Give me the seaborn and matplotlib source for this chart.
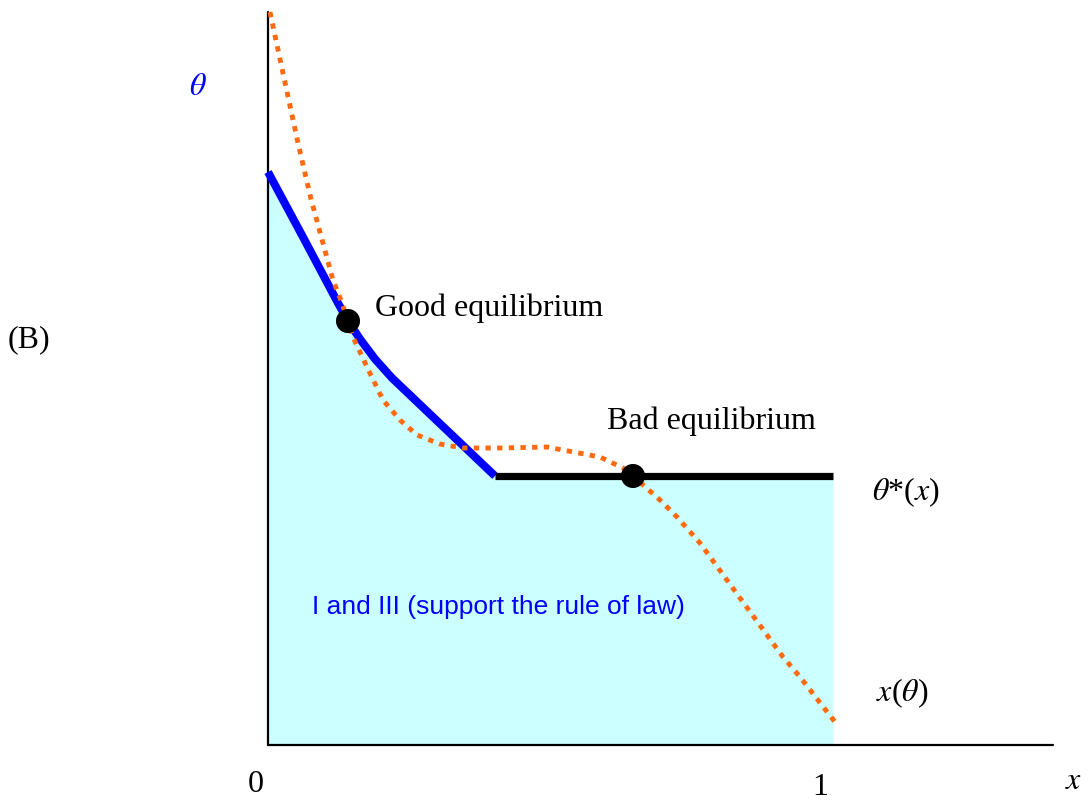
import numpy as np
import pandas as pd
import matplotlib
matplotlib.use("Agg")
import matplotlib.pyplot as plt
import seaborn as sns

# data: x is the share (0..1), theta in the same units
blue_x = [0.0, 0.0619, 0.1239, 0.1416, 0.1628, 0.1894, 0.2195, 0.4018]
blue_y = [1.0142, 0.8991, 0.7823, 0.7504, 0.7186, 0.6832, 0.6496, 0.4761]

flat_x = [0.4018, 1.0]
flat_y = [0.4761, 0.4761]

orange_x = [0.0035, 0.0265, 0.0531, 0.0761, 0.1150, 0.1310, 0.1504, 0.1752,
            0.2035, 0.2336, 0.2637, 0.3044, 0.3451, 0.4106, 0.4938, 0.5876,
            0.6283, 0.6460, 0.6938, 0.7239, 0.7646, 0.8354, 0.9115, 0.9416,
            0.9912, 1.0035]
orange_y = [1.2973, 1.1894, 1.0655, 0.9664, 0.8230, 0.7823, 0.7221, 0.6690,
            0.6106, 0.5752, 0.5487, 0.5327, 0.5257, 0.5257, 0.5274, 0.5097,
            0.4903, 0.4761, 0.4336, 0.4035, 0.3575, 0.2602, 0.1558, 0.1204,
            0.0566, 0.0407]

eq_x = [0.1416, 0.6460]
eq_y = [0.7504, 0.4761]
eq_labels = ["Good equilibrium", "Bad equilibrium"]

axis_top = 1.2973
axis_right = 1.3894

sns.set_style("white")
plt.rcParams["font.family"] = ["Liberation Serif", "DejaVu Serif"]
plt.rcParams["mathtext.fontset"] = "stix"
plt.rcParams["text.color"] = "black"

fig = plt.figure(figsize=(10.92, 8.02), dpi=100)
ax = fig.add_axes([0, 0, 1, 1])

# shaded region under the theta*(x) curve
fill_x = np.array(blue_x + flat_x[1:])
fill_y = np.array(blue_y + flat_y[1:])
ax.fill_between(fill_x, 0, fill_y, color="#CCFFFF", linewidth=0, zorder=1)

# axes
ax.plot([0, 0], [0, axis_top], color="black", lw=1.6, zorder=2)
ax.plot([0, axis_right], [0, 0], color="black", lw=1.6, zorder=2)

blue = pd.DataFrame({"x": blue_x, "y": blue_y})
flat = pd.DataFrame({"x": flat_x, "y": flat_y})
orange = pd.DataFrame({"x": orange_x, "y": orange_y})

sns.lineplot(data=blue, x="x", y="y", sort=False, estimator=None, ax=ax,
             color="#0000FF", lw=5.8, solid_capstyle="butt",
             solid_joinstyle="round", zorder=3)
sns.lineplot(data=flat, x="x", y="y", sort=False, estimator=None, ax=ax,
             color="black", lw=5.2, solid_capstyle="butt", zorder=3)
sns.lineplot(data=orange, x="x", y="y", sort=False, estimator=None, ax=ax,
             color="#FF6A10", lw=3.5, linestyle=(0, (1.1, 1.3)),
             dash_capstyle="butt", zorder=4)
sns.scatterplot(x=eq_x, y=eq_y, ax=ax, color="black", s=300,
                edgecolor="none", zorder=5)
ax.set_xlim(-0.4743, 1.4584)
ax.set_ylim(-0.1009, 1.3186)
ax.axis("off")

fs = 23
ax.text(0.1894, 0.7735, eq_labels[0], fontsize=fs, ha="left", va="center")
ax.text(0.600, 0.5735, eq_labels[1], fontsize=fs, ha="left", va="center")
ax.text(1.069, 0.4478, r"$\theta$*($x$)", fontsize=fs, ha="left", va="center")
ax.text(1.0761, 0.092, r"$x$($\theta$)", fontsize=fs, ha="left", va="center")
ax.text(-0.1239, 1.1646, r"$\theta$", fontsize=fs, color="#0000FF",
        ha="center", va="center")
ax.text(0.0779, 0.2442, "I and III (support the rule of law)",
        fontsize=19, color="#0000FF", family="Liberation Sans",
        ha="left", va="center")
ax.text(-0.4602, 0.7168, "(B)", fontsize=fs, ha="left", va="center")
ax.text(-0.0212, -0.0708, "0", fontsize=fs, ha="center", va="center")
ax.text(0.977, -0.0744, "1", fontsize=fs, ha="center", va="center")
ax.text(1.4265, -0.0655, r"$x$", fontsize=fs, ha="center", va="center")

fig.savefig("out.png", dpi=100)
